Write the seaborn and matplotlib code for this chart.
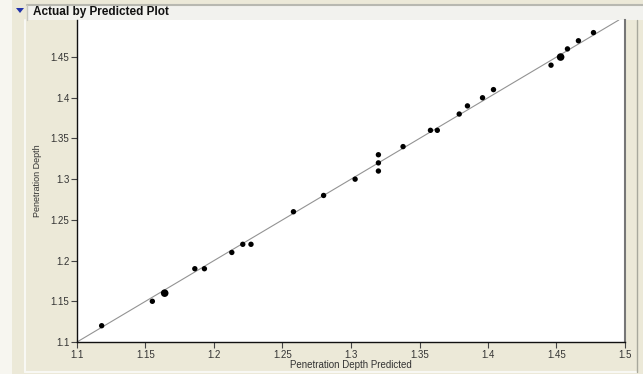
import numpy as np
import pandas as pd
import seaborn as sns
import matplotlib.pyplot as plt
from matplotlib.patches import Rectangle, Polygon

# values
predicted = [1.118, 1.155, 1.164, 1.186, 1.193, 1.213, 1.221, 1.227, 1.258, 1.280,
             1.303, 1.320, 1.320, 1.320, 1.338, 1.358, 1.363, 1.379, 1.385, 1.396,
             1.404, 1.446, 1.453, 1.458, 1.466, 1.477]
actual = [1.12, 1.15, 1.16, 1.19, 1.19, 1.21, 1.22, 1.22, 1.26, 1.28,
          1.30, 1.31, 1.32, 1.33, 1.34, 1.36, 1.36, 1.38, 1.39, 1.40,
          1.41, 1.44, 1.45, 1.46, 1.47, 1.48]
count = [1, 1, 2, 1, 1, 1, 1, 1, 1, 1,
         1, 1, 1, 1, 1, 1, 1, 1, 1, 1,
         1, 1, 2, 1, 1, 1]
x_ticks = [1.1, 1.15, 1.2, 1.25, 1.3, 1.35, 1.4, 1.45, 1.5]
y_ticks = [1.1, 1.15, 1.2, 1.25, 1.3, 1.35, 1.4, 1.45]

df = pd.DataFrame({"Penetration Depth Predicted": predicted,
                   "Penetration Depth": actual,
                   "n": count})

sns.set_style("white")
plt.rcParams['font.family'] = ['Liberation Sans', 'DejaVu Sans']

fig = plt.figure(figsize=(6.43, 3.74), dpi=100)
fig.patch.set_facecolor("#F7F6F0")

beige = "#ECE9D8"
# panel background and frame
fig.patches.append(Rectangle((12 / 643, 0), 631 / 643, 1, transform=fig.transFigure,
                             facecolor=beige, edgecolor="none", zorder=0))
fig.add_artist(plt.Line2D([25 / 643, 25 / 643], [2 / 374, 1 - 20 / 374],
                          transform=fig.transFigure, color="#F8F8F4", lw=1.5))
fig.add_artist(plt.Line2D([25 / 643, 637 / 643], [2 / 374, 2 / 374],
                          transform=fig.transFigure, color="#F8F8F4", lw=1.5))
fig.add_artist(plt.Line2D([637 / 643, 637 / 643], [2 / 374, 1 - 20 / 374],
                          transform=fig.transFigure, color="#A8A89C", lw=1))
# title bar
fig.patches.append(Rectangle((27 / 643, 1 - 20 / 374), 616 / 643, 15 / 374,
                             transform=fig.transFigure, facecolor="#F2F2EE",
                             edgecolor="none", zorder=1))
fig.add_artist(plt.Line2D([27 / 643, 1], [1 - 5 / 374, 1 - 5 / 374],
                          transform=fig.transFigure, color="#B8B8B0", lw=1.5))
fig.add_artist(plt.Line2D([27 / 643, 27 / 643], [1 - 20 / 374, 1 - 5 / 374],
                          transform=fig.transFigure, color="#C8C8C0", lw=1))
fig.patches.append(Polygon([(16 / 643, 1 - 8 / 374), (24 / 643, 1 - 8 / 374),
                            (20 / 643, 1 - 13 / 374)], closed=True,
                           transform=fig.transFigure, facecolor="#2233AA",
                           edgecolor="none", zorder=2))
fig.text(33 / 643, 1 - 12.5 / 374, "Actual by Predicted Plot", fontsize=8.5,
         fontweight="bold", va="center", ha="left", color="#111111")

ax = fig.add_axes([77 / 643, 32 / 374, 548 / 643, 322 / 374])
ax.set_zorder(5)
ax.set_facecolor("white")

ax.axline((1.1, 1.1), slope=1, color="#939393", lw=0.8, zorder=1)
sns.scatterplot(data=df, x="Penetration Depth Predicted", y="Penetration Depth",
                size="n", sizes=(15, 30), color="black", edgecolor="black",
                linewidth=0, legend=False, ax=ax, zorder=3)

ax.set_xlim(1.1, 1.5)
ax.set_ylim(1.1, 1.4955)
ax.set_xticks(x_ticks)
ax.set_xticklabels([f"{t:g}" for t in x_ticks])
ax.set_yticks(y_ticks)
ax.set_yticklabels([f"{t:g}" for t in y_ticks])
ax.tick_params(axis="both", direction="out", length=4, width=0.8, color="#444444",
               labelsize=7, labelcolor="#333333", pad=1.5, left=True, bottom=True)
ax.set_xlabel("Penetration Depth Predicted", fontsize=7, color="#333333", labelpad=0)
ax.set_ylabel("Penetration Depth", fontsize=6.5, color="#333333", labelpad=6)

for side in ["left", "bottom"]:
    ax.spines[side].set_color("#111111")
    ax.spines[side].set_linewidth(1)
ax.spines["right"].set_color("#777777")
ax.spines["right"].set_linewidth(1.5)
ax.spines["top"].set_visible(False)

fig.savefig("out.png", dpi=100, facecolor=fig.get_facecolor())
